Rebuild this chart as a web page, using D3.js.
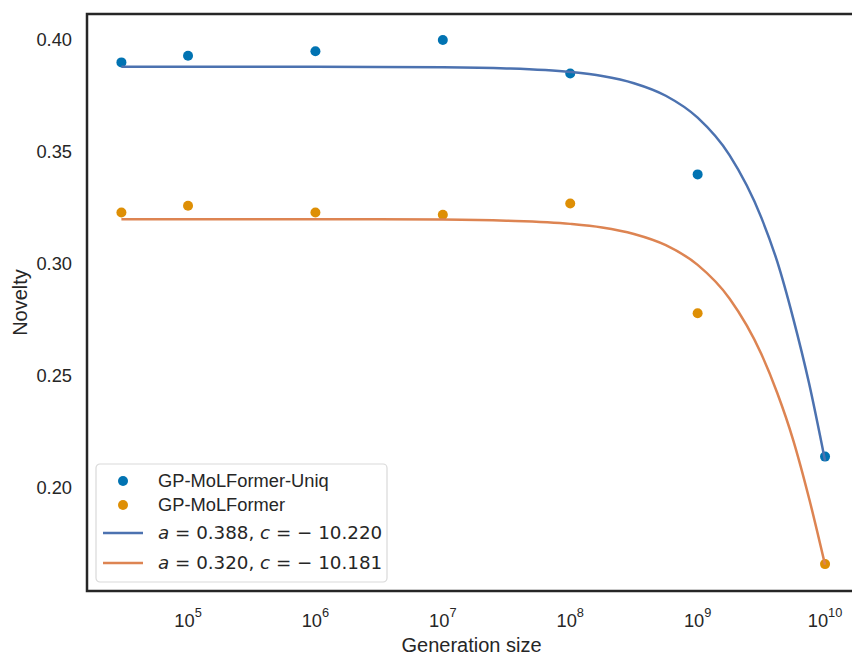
<!DOCTYPE html>
<html>
<head>
<meta charset="utf-8">
<script src="https://cdn.jsdelivr.net/npm/d3@7"></script>
<style>
  body { margin: 0; background: #fff; }
  svg { display: block; font-family: "Liberation Sans", Arial, sans-serif; }
</style>
</head>
<body>
<div id="chart"></div>
<script>

// measured points (generation size, novelty)
var sizes = [3e4, 1e5, 1e6, 1e7, 1e8, 1e9, 1e10];
var uniqValues = [0.390, 0.393, 0.395, 0.400, 0.385, 0.340, 0.214];
var baseValues = [0.323, 0.326, 0.323, 0.322, 0.327, 0.278, 0.166];

// fitted curves (log10 of size -> novelty)
var fitExp = [4.477, 5, 6, 7, 7.5, 8, 8.25, 8.5, 8.75, 9, 9.25, 9.5, 9.625, 9.75, 9.875, 10];
var fitUniq = [0.388, 0.388, 0.388, 0.3878, 0.3873, 0.3857, 0.3839, 0.3807, 0.3751, 0.3653, 0.3486, 0.3207, 0.3010, 0.2757, 0.2466, 0.2122];
var fitBase = [0.320, 0.320, 0.320, 0.3198, 0.3193, 0.3179, 0.3163, 0.3134, 0.3084, 0.2996, 0.2846, 0.2598, 0.2424, 0.2214, 0.1953, 0.1657];

var seriesNames = ["GP-MoLFormer-Uniq", "GP-MoLFormer"];
var fitNames = [["a", " = 0.388, ", "c", " = − 10.220"], ["a", " = 0.320, ", "c", " = − 10.181"]];
var yTicks = [0.20, 0.25, 0.30, 0.35, 0.40];
var xTicks = [5, 6, 7, 8, 9, 10];

var pointColors = ["#0173b2", "#de8f05"];
var lineColors = ["#4c72b0", "#dd8452"];

var width = 852, height = 656;
var margin = {top: 14, right: -4, bottom: 65, left: 87};

var svg = d3.select("#chart").append("svg")
    .attr("width", width)
    .attr("height", height);

var x = d3.scaleLog()
    .domain([Math.pow(10, 4.207), Math.pow(10, 10.243)])
    .range([margin.left, width - margin.right]);

var y = d3.scaleLinear()
    .domain([0.154, 0.4116])
    .range([height - margin.bottom, margin.top]);

// y tick labels (no tick marks, seaborn white)
svg.append("g")
    .selectAll("text")
    .data(yTicks)
    .enter().append("text")
    .attr("x", margin.left - 15)
    .attr("y", function(d) { return y(d); })
    .attr("dy", "0.35em")
    .attr("text-anchor", "end")
    .style("font-size", "18.3px")
    .style("fill", "#262626")
    .text(function(d) { return d.toFixed(2); });

// x tick labels 10^n
var xt = svg.append("g")
    .selectAll("text")
    .data(xTicks)
    .enter().append("text")
    .attr("x", function(d) { return x(Math.pow(10, d)); })
    .attr("y", 627)
    .attr("text-anchor", "middle")
    .style("font-size", "18.3px")
    .style("fill", "#262626");
xt.append("tspan").text("10");
xt.append("tspan")
    .attr("dy", "-0.75em")
    .style("font-size", "12.8px")
    .text(function(d) { return d; });

// axis labels
svg.append("text")
    .attr("x", (margin.left + width - margin.right) / 2)
    .attr("y", 652)
    .attr("text-anchor", "middle")
    .style("font-size", "20px")
    .style("fill", "#262626")
    .text("Generation size");

svg.append("text")
    .attr("transform", "translate(27," + ((margin.top + height - margin.bottom) / 2) + ") rotate(-90)")
    .attr("text-anchor", "middle")
    .style("font-size", "20px")
    .style("fill", "#262626")
    .text("Novelty");

var plot = svg.append("g");

// scatter points
[uniqValues, baseValues].forEach(function(vals, k) {
    plot.selectAll(".pt" + k)
        .data(vals)
        .enter().append("circle")
        .attr("class", "pt" + k)
        .attr("cx", function(d, i) { return x(sizes[i]); })
        .attr("cy", function(d) { return y(d); })
        .attr("r", 5)
        .style("fill", pointColors[k]);
});

// fitted lines
var line = d3.line()
    .x(function(d) { return x(Math.pow(10, d[0])); })
    .y(function(d) { return y(d[1]); })
    .curve(d3.curveMonotoneX);

[fitUniq, fitBase].forEach(function(vals, k) {
    plot.append("path")
        .datum(fitExp.map(function(e, i) { return [e, vals[i]]; }))
        .attr("d", line)
        .style("fill", "none")
        .style("stroke", lineColors[k])
        .style("stroke-width", 2.5);
});

// spines
svg.append("rect")
    .attr("x", margin.left)
    .attr("y", margin.top)
    .attr("width", width - margin.right - margin.left)
    .attr("height", height - margin.bottom - margin.top)
    .style("fill", "none")
    .style("stroke", "#262626")
    .style("stroke-width", 2.5);

// legend
var legend = svg.append("g").attr("transform", "translate(96,464)");
legend.append("rect")
    .attr("width", 291)
    .attr("height", 118)
    .attr("rx", 4)
    .style("fill", "#fff")
    .style("fill-opacity", 0.8)
    .style("stroke", "#d9d9d9")
    .style("stroke-width", 1.2);

var rowY = [17, 41, 69, 99];

seriesNames.forEach(function(name, k) {
    legend.append("circle")
        .attr("cx", 27)
        .attr("cy", rowY[k])
        .attr("r", 5)
        .style("fill", pointColors[k]);
    legend.append("text")
        .attr("x", 62)
        .attr("y", rowY[k])
        .attr("dy", "0.35em")
        .style("font-size", "18.3px")
        .style("fill", "#262626")
        .text(name);
});

fitNames.forEach(function(parts, k) {
    var ry = rowY[k + 2];
    legend.append("line")
        .attr("x1", 7).attr("x2", 47)
        .attr("y1", ry).attr("y2", ry)
        .style("stroke", lineColors[k])
        .style("stroke-width", 2.5);
    var t = legend.append("text")
        .attr("x", 62)
        .attr("y", ry)
        .attr("dy", "0.35em")
        .style("font-family", "'DejaVu Sans', sans-serif")
        .style("font-size", "18.3px")
        .style("fill", "#262626")
        .attr("xml:space", "preserve");
    parts.forEach(function(p, j) {
        t.append("tspan")
            .style("font-style", j % 2 == 0 ? "italic" : "normal")
            .text(p);
    });
});

</script>
</body>
</html>
